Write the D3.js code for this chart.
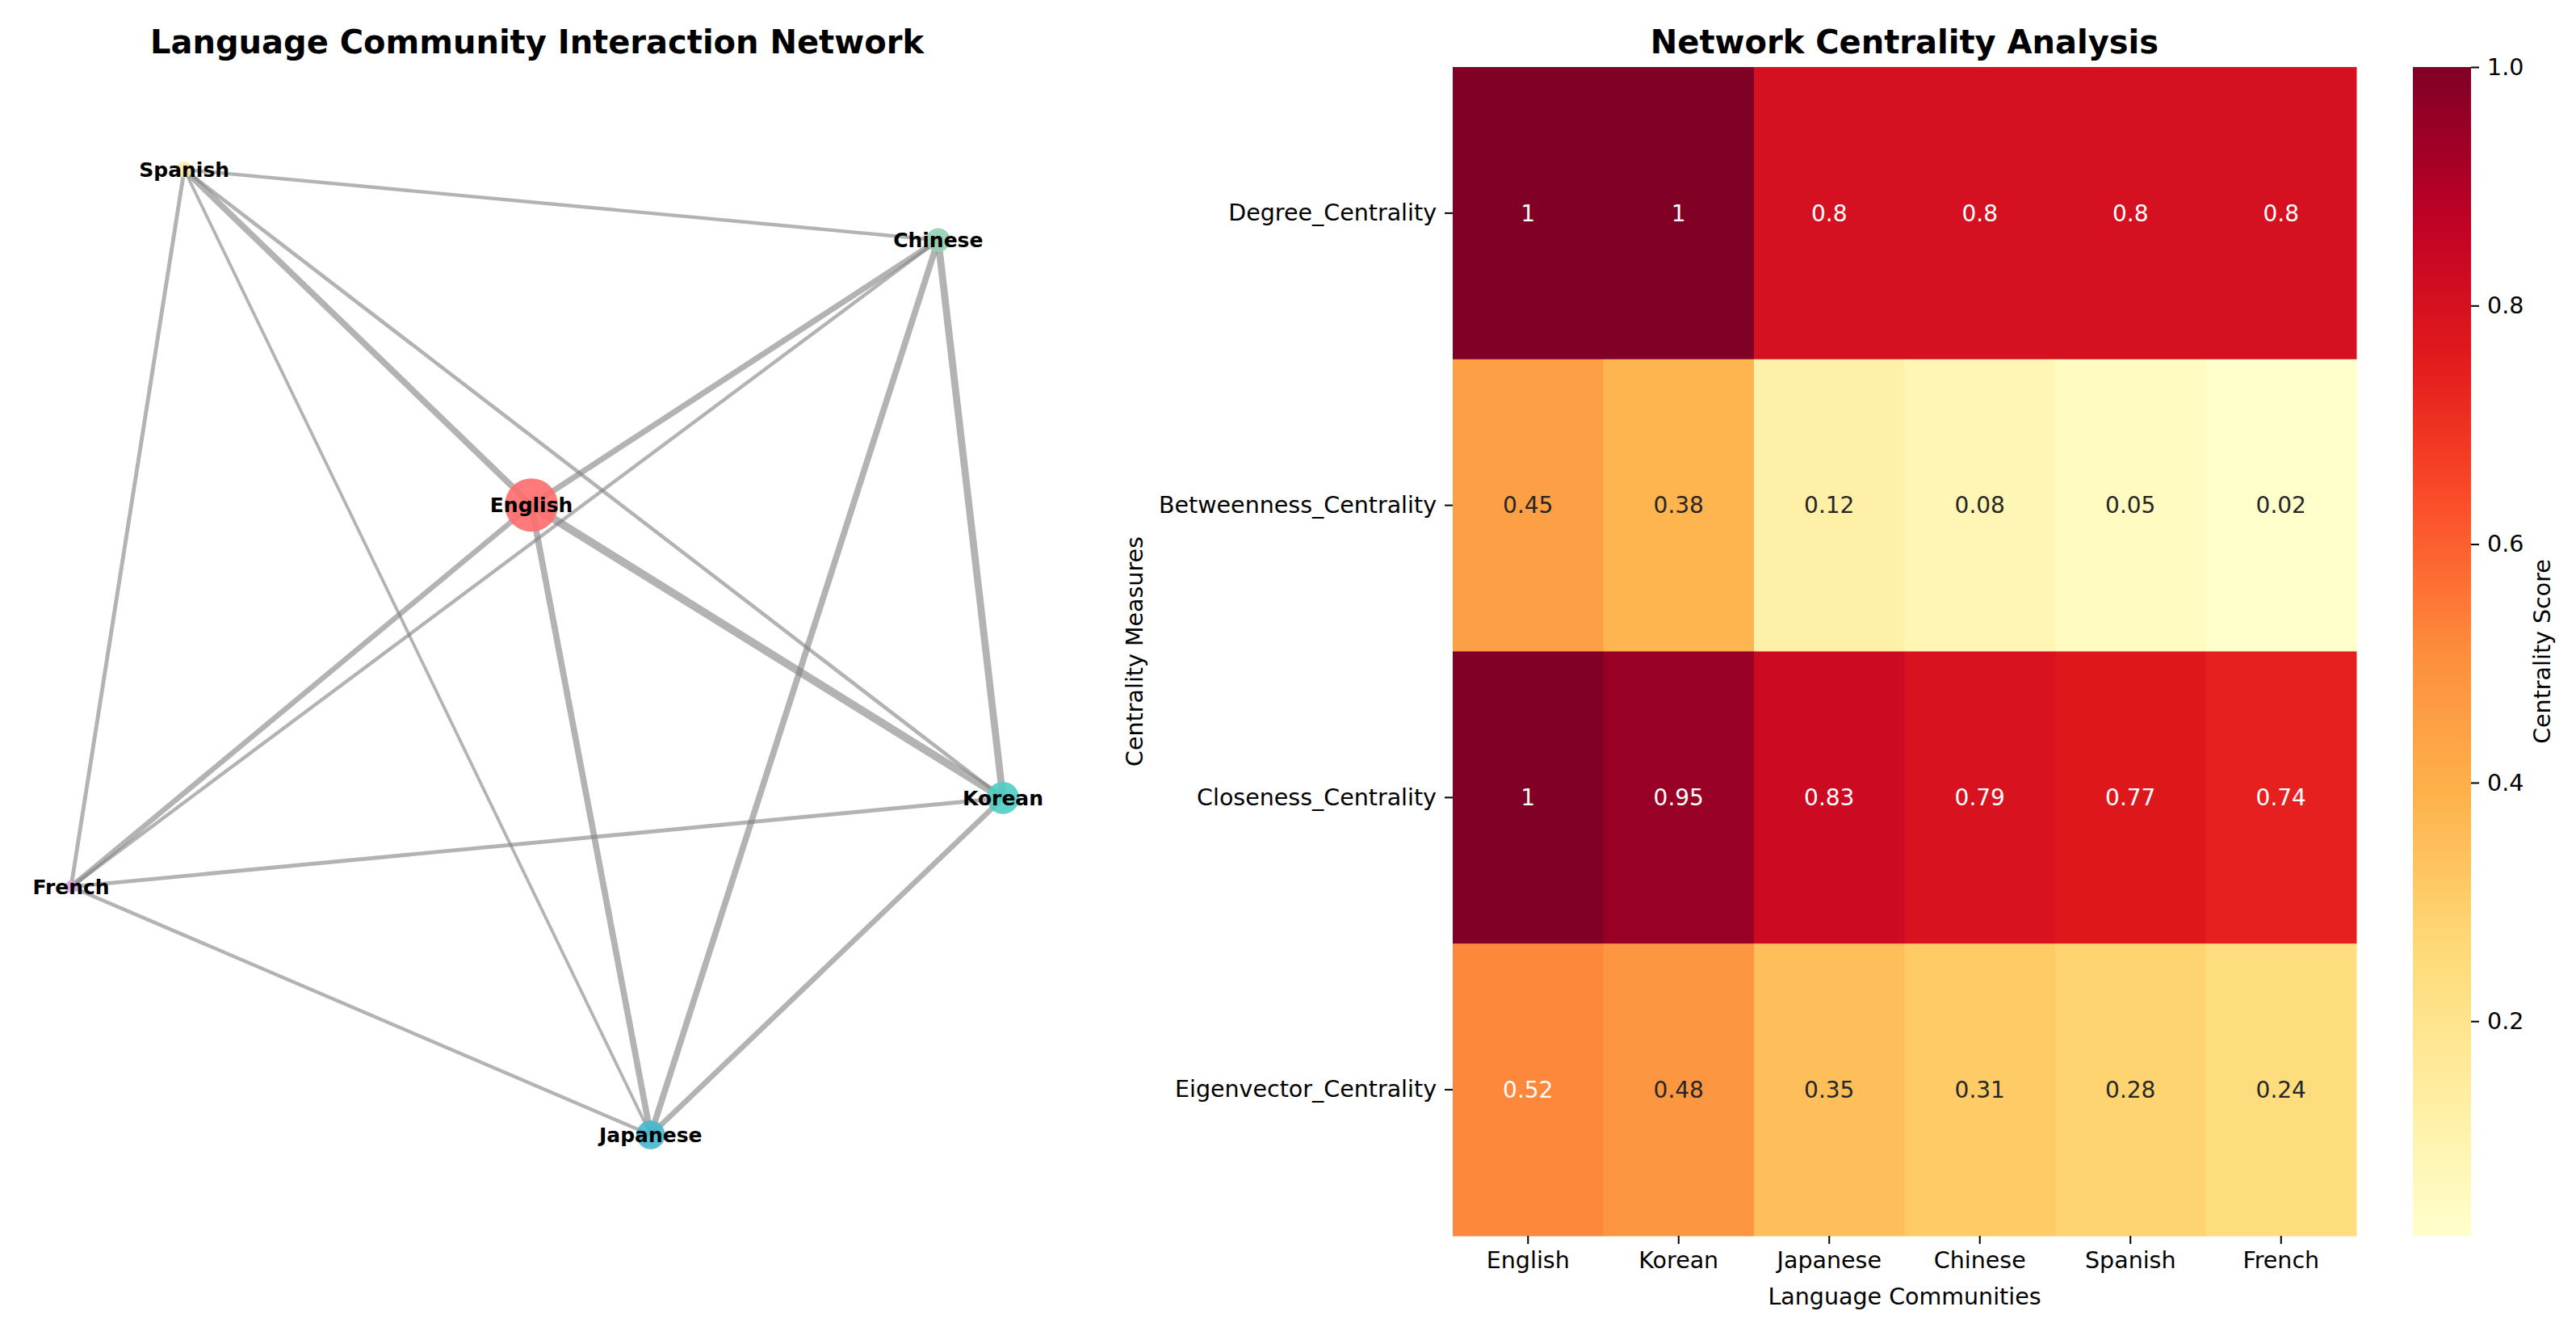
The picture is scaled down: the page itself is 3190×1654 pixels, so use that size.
<!DOCTYPE html>
<html>
<head>
<meta charset="utf-8">
<title>Language Community Network</title>
<style>
  * { margin: 0; padding: 0; }
  body { background: #fff; }
  svg { display: block; font-family: "DejaVu Sans", sans-serif; }
</style>
</head>
<body>
<svg id="chart" width="3190" height="1654"></svg>
<script src="https://cdn.jsdelivr.net/npm/d3@7"></script>
<script>
// ---- network data ----
var languages = ["Spanish", "Chinese", "English", "Korean", "French", "Japanese"];
var layoutX = [-0.757, 0.861, -0.012, 1.0, -1.0, 0.244];   // layout coords
var layoutY = [1.0, 0.854, 0.305, -0.302, -0.486, -1.0];
var nodeSize = [100, 220, 1100, 400, 60, 320];
var nodeColors = ["#FFEAA7", "#96CEB4", "#FF6B6B", "#4ECDC4", "#DDA0DD", "#45B7D1"];
var edges = [
  ["Spanish", "Chinese", 0.40],
  ["Spanish", "English", 0.70],
  ["Spanish", "Korean", 0.42],
  ["Spanish", "French", 0.45],
  ["Spanish", "Japanese", 0.35],
  ["Chinese", "English", 0.65],
  ["Chinese", "French", 0.40],
  ["Chinese", "Japanese", 0.70],
  ["Chinese", "Korean", 0.80],
  ["English", "French", 0.60],
  ["English", "Japanese", 0.70],
  ["English", "Korean", 0.90],
  ["Korean", "French", 0.45],
  ["Korean", "Japanese", 0.60],
  ["French", "Japanese", 0.40]
];

// ---- centrality data ----
var communities = ["English", "Korean", "Japanese", "Chinese", "Spanish", "French"];
var measures = ["Degree_Centrality", "Betweenness_Centrality", "Closeness_Centrality", "Eigenvector_Centrality"];
var degree = [1, 1, 0.8, 0.8, 0.8, 0.8];
var betweenness = [0.45, 0.38, 0.12, 0.08, 0.05, 0.02];
var closeness = [1, 0.95, 0.83, 0.79, 0.77, 0.74];
var eigenvector = [0.52, 0.48, 0.35, 0.31, 0.28, 0.24];
var colorbarTicks = [0.2, 0.4, 0.6, 0.8, 1.0];

var svg = d3.select("#chart");

// ================= left: network =================
var xNet = d3.scaleLinear().domain([-1, 1]).range([88, 1242]);
var yNet = d3.scaleLinear().domain([-1, 1]).range([1405, 210]);
var edgeWidth = d3.scaleLinear().domain([0, 1]).range([0, 11]);
var radius = d3.scaleSqrt().domain([0, 1100]).range([0, 33]);

var pos = {};
languages.forEach(function (l, i) { pos[l] = [xNet(layoutX[i]), yNet(layoutY[i])]; });

svg.append("text")
  .attr("x", 665).attr("y", 66)
  .attr("text-anchor", "middle")
  .attr("font-size", 40).attr("font-weight", "bold")
  .text("Language Community Interaction Network");

var net = svg.append("g");
net.selectAll("line")
  .data(edges)
  .enter()
  .append("line")
  .attr("x1", function (d) { return pos[d[0]][0]; })
  .attr("y1", function (d) { return pos[d[0]][1]; })
  .attr("x2", function (d) { return pos[d[1]][0]; })
  .attr("y2", function (d) { return pos[d[1]][1]; })
  .attr("stroke", "gray")
  .attr("stroke-opacity", 0.6)
  .attr("stroke-width", function (d) { return edgeWidth(d[2]); });

net.selectAll("circle")
  .data(languages)
  .enter()
  .append("circle")
  .attr("cx", function (d) { return pos[d][0]; })
  .attr("cy", function (d) { return pos[d][1]; })
  .attr("r", function (d, i) { return radius(nodeSize[i]); })
  .attr("fill", function (d, i) { return nodeColors[i]; })
  .attr("fill-opacity", 0.9);

net.selectAll("text")
  .data(languages)
  .enter()
  .append("text")
  .attr("x", function (d) { return pos[d][0]; })
  .attr("y", function (d) { return pos[d][1]; })
  .attr("dy", "0.35em")
  .attr("text-anchor", "middle")
  .attr("font-size", 25).attr("font-weight", "bold")
  .text(function (d) { return d; });

// ================= right: heatmap =================
var values = [degree, betweenness, closeness, eigenvector];
var cells = [];
measures.forEach(function (m, r) {
  communities.forEach(function (c, k) {
    cells.push({ measure: m, community: c, value: values[r][k] });
  });
});

var vmin = d3.min(cells, function (d) { return d.value; });
var vmax = d3.max(cells, function (d) { return d.value; });

var ylorrd = ["#ffffcc", "#ffeda0", "#fed976", "#feb24c", "#fd8d3c", "#fc4e2a", "#e31a1c", "#bd0026", "#800026"];
var color = d3.scaleLinear()
  .domain(ylorrd.map(function (c, i) { return vmin + i * (vmax - vmin) / 8; }))
  .range(ylorrd)
  .interpolate(d3.interpolateRgb);

var x = d3.scaleBand().domain(communities).range([1799, 2918]);
var y = d3.scaleBand().domain(measures).range([83, 1530]);

function luminance(c) {
  var rgb = d3.rgb(c);
  var f = function (v) {
    v = v / 255;
    return v <= 0.03928 ? v / 12.92 : Math.pow((v + 0.055) / 1.055, 2.4);
  };
  return 0.2126 * f(rgb.r) + 0.7152 * f(rgb.g) + 0.0722 * f(rgb.b);
}

svg.append("text")
  .attr("x", (x.range()[0] + x.range()[1]) / 2).attr("y", 66)
  .attr("text-anchor", "middle")
  .attr("font-size", 40).attr("font-weight", "bold")
  .text("Network Centrality Analysis");

var heat = svg.append("g");
heat.selectAll("rect")
  .data(cells)
  .enter()
  .append("rect")
  .attr("x", function (d) { return x(d.community); })
  .attr("y", function (d) { return y(d.measure); })
  .attr("width", x.bandwidth() + 0.5)
  .attr("height", y.bandwidth() + 0.5)
  .attr("fill", function (d) { return color(d.value); });

heat.selectAll("text")
  .data(cells)
  .enter()
  .append("text")
  .attr("x", function (d) { return x(d.community) + x.bandwidth() / 2; })
  .attr("y", function (d) { return y(d.measure) + y.bandwidth() / 2; })
  .attr("dy", "0.35em")
  .attr("text-anchor", "middle")
  .attr("font-size", 28)
  .attr("fill", function (d) { return luminance(color(d.value)) > 0.408 ? "#262626" : "#ffffff"; })
  .text(function (d) { return d3.format("")(d.value); });

var xAxis = svg.append("g")
  .attr("transform", "translate(0,1530)")
  .call(d3.axisBottom(x).tickSize(10).tickPadding(10));
var yAxis = svg.append("g")
  .attr("transform", "translate(1799,0)")
  .call(d3.axisLeft(y).tickSize(10).tickPadding(10));
[xAxis, yAxis].forEach(function (a) {
  a.select(".domain").remove();
  a.selectAll("text").attr("font-size", 28.5).attr("fill", "#000").attr("font-family", "DejaVu Sans");
  a.selectAll("line").attr("stroke", "#000").attr("stroke-width", 2);
});

svg.append("text")
  .attr("x", (x.range()[0] + x.range()[1]) / 2).attr("y", 1615)
  .attr("text-anchor", "middle")
  .attr("font-size", 28.5)
  .text("Language Communities");

svg.append("text")
  .attr("transform", "translate(1415," + (83 + 1530) / 2 + ") rotate(-90)")
  .attr("text-anchor", "middle")
  .attr("font-size", 28.5)
  .text("Centrality Measures");

// ---- colorbar ----
var cbX = 2988, cbW = 72;
var cbScale = d3.scaleLinear().domain([vmin, vmax]).range([1530, 83]);

var grad = svg.append("defs").append("linearGradient")
  .attr("id", "cbgrad")
  .attr("x1", 0).attr("y1", 1).attr("x2", 0).attr("y2", 0);
grad.selectAll("stop")
  .data(d3.range(0, 1.0001, 0.02))
  .enter()
  .append("stop")
  .attr("offset", function (t) { return t; })
  .attr("stop-color", function (t) { return color(vmin + t * (vmax - vmin)); });

svg.append("rect")
  .attr("x", cbX).attr("y", cbScale(vmax))
  .attr("width", cbW).attr("height", cbScale(vmin) - cbScale(vmax))
  .attr("fill", "url(#cbgrad)");

var cbAxis = svg.append("g")
  .attr("transform", "translate(" + (cbX + cbW) + ",0)")
  .call(d3.axisRight(cbScale).tickValues(colorbarTicks).tickFormat(d3.format(".1f")).tickSize(10).tickPadding(10));
cbAxis.select(".domain").remove();
cbAxis.selectAll("text").attr("font-size", 28.5).attr("fill", "#000").attr("font-family", "DejaVu Sans");
cbAxis.selectAll("line").attr("stroke", "#000").attr("stroke-width", 2);

svg.append("text")
  .attr("transform", "translate(3158," + (83 + 1530) / 2 + ") rotate(-90)")
  .attr("text-anchor", "middle")
  .attr("font-size", 28.5)
  .text("Centrality Score");
</script>
</body>
</html>
